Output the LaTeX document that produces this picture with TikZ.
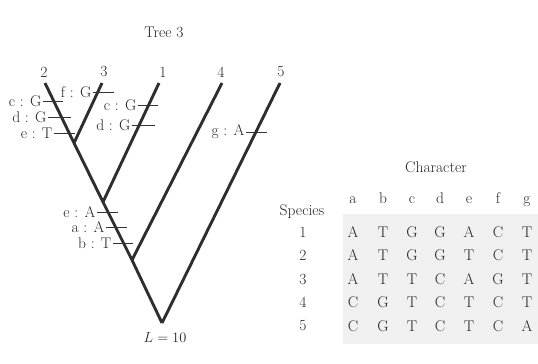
\documentclass[tikz,border=0pt]{standalone}
\begin{document}
\begin{tikzpicture}[x=1pt,y=-1pt,
  txt/.style={font=\fontsize{15.5}{17}\selectfont, text=black!85, inner sep=0pt},
  branch/.style={draw=black!82, line width=2.9pt},
  tick/.style={draw=black!80, line width=0.9pt},
  tlab/.style={txt, anchor=east, inner xsep=1.5pt}]
\useasboundingbox (0,0) rectangle (538,364);
% tree coordinates
\coordinate (root) at (162,323);
\coordinate (n4) at (132,260);
\coordinate (n1) at (103,202);
\coordinate (n3) at (74,143);
\coordinate (l2) at (45,83);
\coordinate (l3) at (102,83);
\coordinate (l1) at (159,83);
\coordinate (l4) at (222,83);
\coordinate (l5) at (280,83);
\node[txt] (title) at (164,32) {Tree 3};
\node[txt] (t2) at (44,72) {2};
\node[txt] (t3) at (104,72) {3};
\node[txt] (t1) at (163,72) {1};
\node[txt] (t4) at (221,72) {4};
\node[txt] (t5) at (281,72) {5};
\node[txt] (len) at (165,338) {$L=10$};
% branches
\draw[branch] (root) -- (n4) -- (n1) -- (n3) -- (l2);
\draw[branch] (root) -- (l5);
\draw[branch] (n4) -- (l4);
\draw[branch] (n1) -- (l1);
\draw[branch] (n3) -- (l3);
% ticks
\foreach \nm/\xa/\xb/\yy/\lab in {
  cg2/43/63/101/{c : G},
  dg2/48/71/117/{d : G},
  et2/54/75/133/{e : T},
  fg3/93/114/92/{f : G},
  cg1/138/158/105/{c : G},
  dg1/132/155/125/{d : G},
  ga5/246/267/132/{g : A},
  ea/97/118/212/{e : A},
  aa/106/127/227/{a : A},
  bt/113/133/243/{b : T}}{
  \coordinate (\nm s) at (\xa,\yy);
  \coordinate (\nm e) at (\xb,\yy);
  \draw[tick] (\nm s) -- (\nm e);
  \node[tlab] (\nm l) at (\nm s) {\lab};
}
% table
\fill[black!6] (343,214) rectangle (538,344);
\node[txt] (charhead) at (436,167) {Character};
\node[txt] (species) at (302,212) {Species};
\foreach \c [count=\i] in {a,b,c,d,e,f,g}{
  \pgfmathsetmacro{\xx}{\i==1?353:(\i==2?383:(\i==3?412:(\i==4?440:(\i==5?469:(\i==6?498:527)))))}
  \node[txt,anchor=base] (h\i) at (\xx,203) {\c};
}
\foreach \row/\vals [count=\r] in {1/{A,T,G,G,A,C,T},2/{A,T,G,G,T,C,T},3/{A,T,T,C,A,G,T},4/{C,G,T,C,T,C,T},5/{C,G,T,C,T,C,A}}{
  \pgfmathsetmacro{\yy}{232+23.5*(\r-1)}
  \node[txt] (sp\r) at (303,\yy) {\row};
  \foreach \v [count=\i] in \vals{
    \pgfmathsetmacro{\xx}{\i==1?353:(\i==2?383:(\i==3?412:(\i==4?440:(\i==5?469:(\i==6?498:527)))))}
    \node[txt] (c\r\i) at (\xx,\yy) {\v};
  }
}
\end{tikzpicture}
\end{document}
